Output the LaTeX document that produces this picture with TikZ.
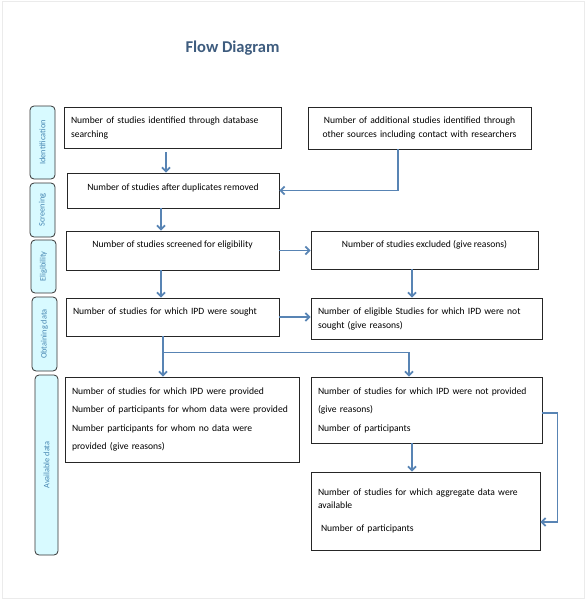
\documentclass[tikz,border=0pt]{standalone}
\usepackage{fontspec}
\setmainfont{Carlito}
\usepackage{tikz}
\usetikzlibrary{arrows.meta}
\definecolor{flowblue}{RGB}{88,132,180}
\definecolor{titleblue}{RGB}{62,92,126}
\definecolor{stagefill}{RGB}{216,250,255}
\definecolor{stagetext}{RGB}{70,134,178}
\tikzset{
	box/.style={draw=black!85,line width=0.8pt,inner sep=0pt,font=\fontsize{9.6}{14}\selectfont},
	stage/.style={draw=black!80,line width=0.8pt,rounded corners=4pt,fill=stagefill,text=stagetext,
		font=\fontsize{8.3}{9}\selectfont,rotate=90,inner sep=0pt,minimum height=25},
	flow/.style={draw=flowblue,line width=1.8pt,-{Straight Barb[length=4pt,width=8pt]}}
}
\begin{document}
\begin{tikzpicture}[x=1pt,y=-1pt]
		\useasboundingbox (0,0) rectangle (585,600);
		\draw[black!8] (2,1) rectangle (584,598);
		\node[font=\fontsize{16.5}{18}\selectfont\bfseries,text=titleblue] (ttl) at (232.5,48) {Flow Diagram};
		% stages
		\node[stage,minimum width=73] (lIdent) at (42.5,142.5) {Identification};
		\node[stage,minimum width=54] (lScreen) at (42.5,210) {Screening};
		\node[stage,minimum width=53] (lElig) at (43.5,266.5) {Eligibility};
		\node[stage,minimum width=74] (lObtain) at (44.5,334) {Obtaining data};
		\node[stage,minimum width=180,minimum height=23] (lAvail) at (46.5,465) {Available data};
		% boxes
		\node[box,minimum width=217,minimum height=41,text width=203,align=left] (ident) at (172.5,127.5)
			{Number of studies identified through database\\searching};
		\node[box,minimum width=223,minimum height=42,text width=215,align=center] (other) at (419.5,128)
			{Number of additional studies identified through\\other sources including contact with researchers};
		\node[box,minimum width=212,minimum height=35,text depth=7pt,align=center] (dup) at (173,190.5)
			{Number of studies after duplicates removed};
		\node[box,minimum width=213,minimum height=39,text depth=12pt,align=center] (screen) at (172.5,250.5)
			{Number of studies screened for eligibility};
		\node[box,minimum width=227,minimum height=38,text depth=12pt,align=center] (excl) at (424.5,250)
			{Number of studies excluded (give reasons)};
		\node[box,minimum width=213,minimum height=38,text width=199,text depth=11pt,align=left] (sought) at (172.5,317)
			{Number of studies for which IPD were sought};
		\node[box,minimum width=231,minimum height=41,text width=217,align=left] (notsought) at (426.5,318.5)
			{Number of eligible Studies for which IPD were not\\sought (give reasons)};
		\node[box,minimum width=234,minimum height=85,text width=220,align=left,font=\fontsize{9.6}{18.5}\selectfont] (prov) at (182,419.5)
			{Number of studies for which IPD were provided\\Number of participants for whom data were provided\\Number participants for whom no data were\\provided (give reasons)};
		\node[box,minimum width=231,minimum height=66,text width=217,align=left,font=\fontsize{9.6}{18.5}\selectfont] (notprov) at (426.5,410)
			{Number of studies for which IPD were not provided\\(give reasons)\\Number of participants};
		\node[box,minimum width=229,minimum height=78,text width=215,align=left,font=\fontsize{9.6}{13}\selectfont] (aggr) at (425.5,511)
			{Number of studies for which aggregate data were\\available\\[10pt]\hspace*{3pt}Number of participants\par\vspace*{13pt}};
		% connectors
		\draw[flow,shorten <=4pt] ([xshift=-6.5]ident.south) -- ([xshift=-6.5]ident.south |- dup.north);
		\draw[flow] ([xshift=-21.5]other.south) |- (dup.east);
		\draw[flow] ([xshift=-12]dup.south) -- ([xshift=-12]dup.south |- screen.north);
		\draw[flow] (screen.east) -- (screen.east -| excl.west);
		\draw[flow] ([xshift=-12.5]excl.south) -- ([xshift=-12.5]excl.south |- notsought.north);
		\draw[flow] ([xshift=-11.5]screen.south) -- ([xshift=-11.5]screen.south |- sought.north);
		\draw[flow] (sought.east) -- (sought.east -| notsought.west);
		\draw[flow] ([xshift=-9.5]sought.south) -- ([xshift=-9.5]sought.south |- prov.north);
		\draw[flow] ([xshift=-9.5,yshift=-16]sought.south) -| ([xshift=-17.5]notprov.north);
		\draw[flow] ([xshift=-14.5]notprov.south) -- ([xshift=-14.5]notprov.south |- aggr.north);
		\draw[flow] ([yshift=-3]notprov.east) -- ++(15,0) |- ([yshift=-11]aggr.east);
\end{tikzpicture}
\end{document}
